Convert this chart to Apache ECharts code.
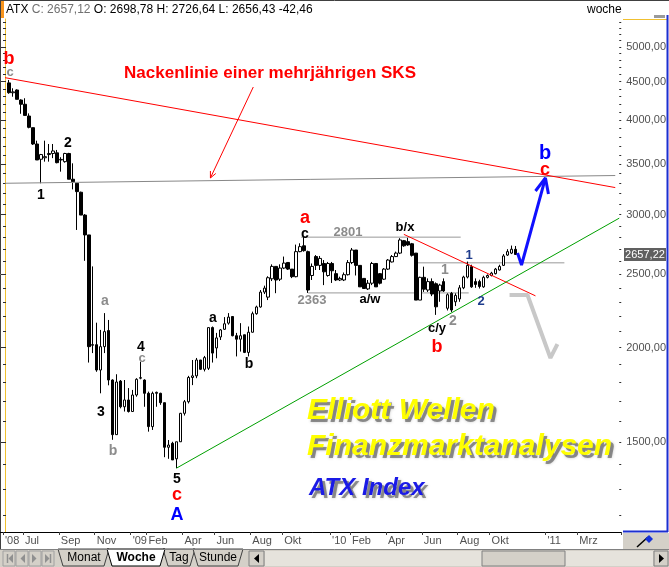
<!DOCTYPE html>
<html><head><meta charset="utf-8">
<script src="https://cdn.jsdelivr.net/npm/echarts@6/dist/echarts.min.js"></script>
<style>html,body{margin:0;padding:0;background:#fff}#c{width:669px;height:567px}</style>
</head><body><div id="c"></div>
<script>
// ---------- data ----------
const startDate = '2008-05-26';      // first (empty) weekly slot on the axis
const weekCount = 155;               // weekly slots shown on the axis
const firstCandleSlot = 1;           // candles start at week of 2008-06-02

const opens = [4483,4350,4387,4255,4200,4052,3911,3721,3552,3568,
3603,3615,3622,3544,3526,3615,3342,3301,3212,2996,
2820,2018,2018,1868,2006,2107,1812,1534,1806,1670,
1705,1646,1731,1822,1812,1740,1572,1740,1740,1691,
1476,1494,1425,1501,1637,1696,1826,1835,1926,1872,
1878,2126,1998,2066,2115,2155,2199,2074,2052,2080,
1971,2096,2218,2264,2369,2333,2467,2562,2464,2549,
2593,2541,2483,2680,2728,2680,2492,2640,2570,2585,
2492,2585,2506,2458,2458,2498,2592,2693,2570,2470,
2392,2434,2585,2506,2464,2541,2597,2640,2668,2771,
2763,2745,2668,2312,2478,2384,2446,2430,2377,2446,
2255,2360,2300,2320,2400,2480,2560,2446,2446,2407,
2478,2492,2506,2534,2570,2652,2668,2698.78];
const highs = [4523,4410,4396,4264,4278,4085,3911,3759,3610,3759,
3721,3721,3654,3574,3622,3622,3508,3301,3218,3005,
2820,2562,2158,2111,2222,2176,1816,1844,1812,1812,
1768,1758,1822,1916,1816,1749,1749,1749,1743,1691,
1509,1501,1501,1639,1705,1835,1926,1938,1926,1950,
2126,2133,2092,2117,2195,2222,2199,2092,2155,2080,
2133,2232,2273,2384,2416,2486,2578,2562,2578,2640,
2593,2541,2738,2749,2801,2688,2585,2652,2645,2612,
2597,2597,2534,2483,2515,2612,2710,2693,2570,2472,
2458,2597,2585,2510,2549,2620,2652,2680,2792,2777,
2795,2752,2668,2483,2560,2470,2470,2440,2430,2470,
2360,2370,2360,2420,2490,2600,2575,2470,2460,2490,
2500,2520,2550,2575,2660,2700,2730,2726.64];
const lows = [4337,4298,4264,4080,4060,3903,3710,3544,3301,3526,
3526,3564,3508,3420,3515,3342,3240,2863,2996,2606,
1911,1967,1858,1740,1967,1783,1510,1534,1662,1646,
1641,1646,1722,1816,1670,1548,1556,1670,1680,1432,
1425,1420,1385,1500,1626,1687,1784,1822,1868,1860,
1868,1911,1936,2047,2111,2145,2070,1947,1976,1967,
1947,2094,2211,2259,2355,2312,2450,2361,2450,2541,
2534,2472,2478,2675,2680,2363,2458,2534,2534,2420,
2483,2436,2450,2450,2450,2492,2580,2492,2407,2392,
2384,2420,2407,2425,2458,2534,2593,2636,2660,2720,
2728,2640,2312,2312,2370,2370,2340,2210,2300,2370,
2240,2230,2270,2300,2390,2470,2400,2400,2395,2400,
2470,2485,2500,2530,2565,2645,2660,2656.43];
const closes = [4351,4362,4264,4200,4060,3915,3721,3544,3603,3580,
3615,3643,3515,3550,3615,3342,3317,3218,2996,2820,
2006,2015,1868,2006,2100,1812,1534,1801,1670,1705,
1646,1731,1816,1825,1740,1572,1740,1745,1691,1476,
1486,1420,1501,1637,1696,1826,1835,1926,1872,1940,
2126,1967,2060,2111,2151,2195,2074,2052,2074,1971,
2096,2218,2264,2369,2398,2475,2562,2458,2549,2588,
2541,2483,2680,2721,2688,2384,2562,2570,2625,2520,
2585,2528,2458,2470,2498,2592,2693,2570,2407,2395,
2434,2585,2407,2434,2541,2612,2640,2668,2777,2728,
2735,2650,2312,2478,2390,2446,2355,2265,2420,2377,
2350,2243,2345,2400,2480,2570,2407,2425,2410,2478,
2492,2510,2541,2562,2645,2680,2699.58,2657.12];

// axis labels
const xLabelSlots = [0,5,14,23,32,36,45,53,62,70,82,87,96,105,114,122,136,144];
const xLabelTexts = ["'08","Jul","Sep","Nov","'09","Feb","Apr","Jun","Aug","Okt","'10","Feb","Apr","Jun","Aug","Okt","'11","Mrz"];
const yLabelValues = [1500,2000,2500,3000,3500,4000,4500,5000];
const yMinorValues = [1200,1300,1400,1500,1600,1700,1800,1900,2000,2100,2200,2300,2400,2500,2600,2700,2800,2900,3000,3100,3200,3300,3400,3500,3600,3700,3800,3900,4000,4100,4200,4300,4400,4500,4600,4700,4800,4900,5000,5100,5200,5300,5400];
const yMin = 1140, yMax = 5447;
const lastPrice = 2657.22;

// drawn analysis lines: [week slot, index level]
const neckRed   = [[0,4555],[153,3258]];
const neckGray  = [[0,3301],[153,3380]];
const level2801 = [[74.25,2801],[114.25,2801]];
const level2363 = [[76,2363],[116.25,2363]];
const level1    = [[103,2590],[140.25,2590]];
const redTrend  = [[100,2825],[133,2342]];
const greenTrend= [[43,1385],[154,2968]];
const blueArrow = [[128.5,2669],[129.5,2573],[135.5,3355]];
const blueHead  = [[133,3224],[135.5,3355],[136.25,3195]];
const grayArrow = [[126.5,2348],[131,2348],[136.75,1938],[138.5,2022]];
const redPointer= [[62.25,4427],[51.5,3355]];
const redPointerHead = [[52.85,3401],[51.5,3355],[51.5,3427]];

// ---------- build ----------
const weeks = [];
{
  const d0 = new Date(startDate + 'T00:00:00Z');
  for (let k = 0; k < weekCount; k++) {
    const d = new Date(d0.getTime() + k * 7 * 86400000);
    weeks.push(d.toISOString().slice(0,10));
  }
}
const candles = [];
for (let k = 0; k < firstCandleSlot; k++) candles.push('-');
for (let i = 0; i < opens.length; i++) candles.push([opens[i], closes[i], lows[i], highs[i]]);

const FONT = '"Liberation Sans", Arial, sans-serif';
const fmt = v => v.toFixed(2).replace('.', ',');
const isLabelSlot = idx => xLabelSlots.indexOf(idx) >= 0;

function lineSeries(data, color, width, z) {
  return {type:'line', xAxisIndex:1, yAxisIndex:0, data, symbol:'none', silent:true,
    animation:false, z:z||5, lineStyle:{color, width}, clip:false};
}
function txt(x, y, s, color, size, o) {
  o = o || {};
  const style = {text:s, fill:color,
    font:(o.italic?'italic ':'') + (o.bold===false?'':'bold ') + size + 'px ' + (o.font||FONT),
    textAlign:o.align||'center', textVerticalAlign:'middle'};
  if (o.blur) { style.shadowColor=color; style.shadowBlur=o.blur; style.textShadowColor=color; style.textShadowBlur=o.blur; }
  if (o.rich) style.rich = o.rich;
  return {type:'text', x, y, z:o.z||100, silent:true, style};
}
function shadowed(x, y, s, color, size) {
  return [
    txt(x+3, y+3, s, 'rgba(70,70,70,0.55)', size, {italic:true, align:'left', blur:3, z:99}),
    txt(x, y, s, color, size, {italic:true, align:'left', z:100})
  ];
}
function poly(points, fill, stroke, z) {
  return {type:'polygon', z:z||100, silent:true, shape:{points}, style:{fill, stroke:stroke||null, lineWidth:1}};
}
function rect(x,y,w,h,fill,stroke,z){
  return {type:'rect', z:z||100, silent:true, shape:{x,y,width:w,height:h}, style:{fill, stroke:stroke||null, lineWidth:1}};
}
function line(x1,y1,x2,y2,color,w,z){
  return {type:'line', z:z||101, silent:true, shape:{x1,y1,x2,y2}, style:{stroke:color, lineWidth:w||1}};
}

const GRAY = '#8c8c8c', NAVY = '#1e3c8c';
const graphics = [
  // header
  rect(0,0,4,18,'#f7941d',null,101),
  txt(6,10,'{a|ATX} {b|C: 2657,12} {a|O: 2698,78 H: 2726,64 L: 2656,43 -42,46}','#000',12,{bold:false,align:'left',
    rich:{a:{fill:'#000',font:'12px '+FONT}, b:{fill:'#707070',font:'12px '+FONT}}}),
  txt(587,10,'woche','#000',12,{bold:false,align:'left'}),
  rect(654,15,11,3,'#9a9a9a',null,101),
  line(623,19.5,667,19.5,'#f0c030',1),
  line(0,0.5,669,0.5,'#404040',1),
  line(0.5,0,0.5,549,'#404040',1),
  line(667.5,15,667.5,532,'#1c2fd0',2),
  line(623,531.5,668,531.5,'#1c2fd0',2),
  line(0,532.5,3,532.5,'#000',1),
  // right bottom panel
  rect(623,533,46,16,'#d4d0c8',null,99),
  line(637,547,648,537,'#000',1.5),
  poly([[645,539],[649,535],[653,539],[649,543]],'#1530d8',null,102),
  // tab bar
  rect(0,549,669,18,'#d4d0c8',null,99),
  line(0,549.5,669,549.5,'#808080',1),
  rect(3,551,12,15,'#d4d0c8','#a0a0a0'),
  rect(16,551,12,15,'#d4d0c8','#a0a0a0'),
  rect(29,551,12,15,'#d4d0c8','#a0a0a0'),
  rect(42,551,12,15,'#d4d0c8','#a0a0a0'),
  line(7.5,554,7.5,563,'#909090',1.5),
  poly([[13,554],[13,563],[8.5,558.5]],'#909090'),
  poly([[25,554],[25,563],[20.5,558.5]],'#909090'),
  poly([[32,554],[32,563],[36.5,558.5]],'#909090'),
  poly([[45,554],[45,563],[49.5,558.5]],'#909090'),
  line(50.5,554,50.5,563,'#909090',1.5),
  poly([[58,549],[63,566],[104,566],[109,549]],'#d4d0c8','#404040'),
  poly([[163,549],[168,566],[190,566],[195,549]],'#d4d0c8','#404040'),
  poly([[193,549],[198,566],[238,566],[243,549]],'#d4d0c8','#404040'),
  poly([[107,549],[112,566],[160,566],[165,549]],'#ffffff','#000'),
  txt(84,558,'Monat','#000',12,{bold:false}),
  txt(136,558,'Woche','#000',12),
  txt(179,558,'Tag','#000',12,{bold:false}),
  txt(218,558,'Stunde','#000',12,{bold:false}),
  rect(249,551,15,15,'#d4d0c8','#808080'),
  poly([[259,554],[259,563],[254,558.5]],'#000'),
  rect(265,551,388,15,'#e6e3dc',null),
  rect(482,551,83,15,'#d4d0c8','#808080'),
  rect(654,551,14,15,'#d4d0c8','#808080'),
  poly([[659,554],[659,563],[664,558.5]],'#000'),
  // current price tag on the axis
  rect(624,248,42,13,'#606060',null,101),
  txt(645,255,fmt(lastPrice),'#ffffff',11,{bold:false,z:102}),
  // annotations
  txt(9,59,'b','#ff0000',18),
  txt(10,72,'c',GRAY,13),
  txt(270,73,'Nackenlinie einer mehrjährigen SKS','#ff0000',17),
  txt(41,195,'1','#000',14),
  txt(68,143,'2','#000',14),
  txt(105,301,'a',GRAY,14),
  txt(101,412,'3','#000',14),
  txt(113,451,'b',GRAY,14),
  txt(141,347,'4','#000',14),
  txt(142,358,'c',GRAY,13),
  txt(177,479,'5','#000',14),
  txt(177,495,'c','#ff0000',18),
  txt(177,515,'A','#0000ff',18),
  txt(213,318,'a','#000',14),
  txt(249,364,'b','#000',14),
  txt(305,218,'a','#ff0000',18),
  txt(305,234,'c','#000',14),
  txt(348,232,'2801',GRAY,13),
  txt(312,300,'2363',GRAY,13),
  txt(370,299,'a/w','#000',13),
  txt(405,227,'b/x','#000',13),
  txt(445,270,'1',GRAY,14),
  txt(437,328,'c/y','#000',13),
  txt(453,321,'2',GRAY,14),
  txt(437,347,'b','#ff0000',18),
  txt(469,255,'1',NAVY,13),
  txt(481,301,'2',NAVY,13),
  txt(545,153,'b','#0000ff',20),
  txt(545,170,'c','#ff0000',18),
  ...shadowed(307,411,'Elliott Wellen','#ffff00',30),
  ...shadowed(307,447,'Finanzmarktanalysen','#ffff00',30),
  ...shadowed(309,488,'ATX Index','#1a1ae6',24)
];

const chart = echarts.init(document.getElementById('c'), null, {renderer:'canvas'});
chart.setOption({
  animation:false,
  backgroundColor:'#ffffff',
  grid:{left:3, right:46, top:19, bottom:35, containLabel:false},
  xAxis:[
    {type:'category', data:weeks, boundaryGap:true,
     axisLine:{show:true, lineStyle:{color:'#000', width:1}},
     axisTick:{show:true, interval:(i)=>isLabelSlot(i), length:3, lineStyle:{color:'#404040'}},
     axisLabel:{interval:(i)=>isLabelSlot(i), formatter:(v,i)=>xLabelTexts[xLabelSlots.indexOf(i)] || '',
       color:'#505050', fontSize:11, fontFamily:FONT, align:'left', margin:3},
     splitLine:{show:false}},
    {type:'value', min:-0.5, max:weekCount-0.5, show:false}
  ],
  yAxis:[
    {type:'log', logBase:10, min:yMin, max:yMax, position:'right', offset:0,
     axisLine:{show:true, lineStyle:{color:'#f0c030', width:1}},
     axisTick:{show:true, inside:true, length:4, customValues:yLabelValues, lineStyle:{color:'#303030'}},
     axisLabel:{show:true, customValues:yLabelValues, formatter:v=>fmt(v), color:'#505050', fontSize:11, fontFamily:FONT, margin:5},
     splitLine:{show:false}, minorTick:{show:false}},
    {type:'log', logBase:10, min:yMin, max:yMax, position:'right', offset:0,
     axisLine:{show:false},
     axisTick:{show:true, inside:true, length:2, customValues:yMinorValues, lineStyle:{color:'#303030'}},
     axisLabel:{show:false}, splitLine:{show:false}},
    {type:'log', logBase:10, min:yMin, max:yMax, position:'left', offset:0,
     axisLine:{show:false},
     axisTick:{show:true, inside:true, length:3, customValues:yMinorValues, lineStyle:{color:'#303030'}},
     axisLabel:{show:false}, splitLine:{show:false}}
  ],
  series:[
    {type:'candlestick', xAxisIndex:0, yAxisIndex:0, data:candles, barWidth:3, z:3,
     itemStyle:{color:'#ffffff', color0:'#000000', borderColor:'#000000', borderColor0:'#000000', borderWidth:1}},
    lineSeries(neckGray,'#888888',1,4),
    lineSeries(neckRed,'#ff0000',1,4),
    lineSeries(level2801,'#999999',1,2),
    lineSeries(level2363,'#999999',1,2),
    lineSeries(level1,'#999999',1,2),
    lineSeries(redTrend,'#ff0000',1,4),
    lineSeries(greenTrend,'#00a000',1,4),
    lineSeries(grayArrow,'#c8c8c8',4,6),
    lineSeries(blueArrow,'#1010ff',3,7),
    lineSeries(blueHead,'#1010ff',3,7),
    lineSeries(redPointer,'#ff0000',1,7),
    lineSeries(redPointerHead,'#ff0000',1,7)
  ],
  graphic:graphics
});
</script></body></html>
